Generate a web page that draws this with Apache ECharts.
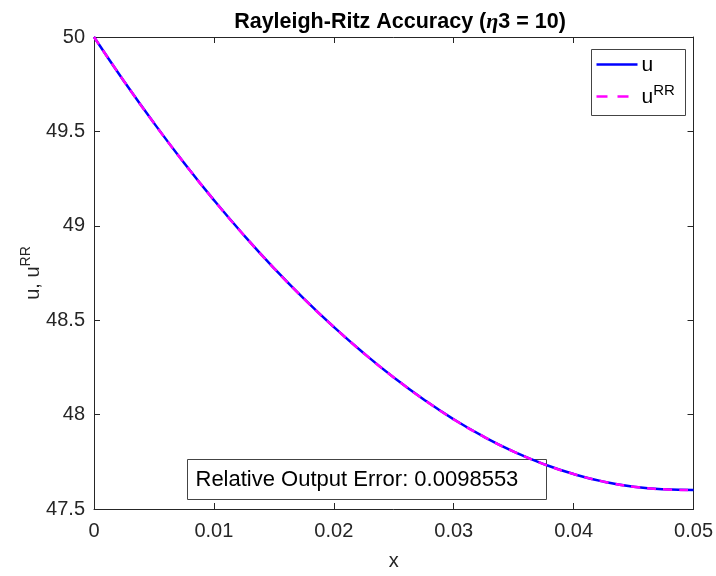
<!DOCTYPE html>
<html>
<head>
<meta charset="utf-8">
<script src="https://cdn.jsdelivr.net/npm/echarts@6/dist/echarts.min.js"></script>
<style>
  html, body { margin: 0; padding: 0; background: #fff; }
  #chart { width: 716px; height: 576px; }
</style>
</head>
<body>
<div id="chart"></div>
<script>
// Positions along the rod (x) and the exact / Rayleigh-Ritz temperature profiles
var xValues = [0, 0.0025, 0.005, 0.0075, 0.01, 0.0125, 0.015, 0.0175, 0.02, 0.0225,
               0.025, 0.0275, 0.03, 0.0325, 0.035, 0.0375, 0.04, 0.0425, 0.045, 0.0475, 0.05];
var uExact = [50.000, 49.766, 49.544, 49.334, 49.136, 48.950, 48.776, 48.614, 48.464, 48.325,
              48.197, 48.080, 47.975, 47.883, 47.804, 47.738, 47.685, 47.645, 47.618, 47.604, 47.600];
var uRR    = [50.000, 49.766, 49.544, 49.334, 49.136, 48.950, 48.776, 48.614, 48.464, 48.325,
              48.197, 48.080, 47.975, 47.883, 47.804, 47.738, 47.685, 47.645, 47.618, 47.604, 47.600];
var xTickLabels = ['0', '0.01', '0.02', '0.03', '0.04', '0.05'];
var yTickLabels = ['47.5', '48', '48.5', '49', '49.5', '50'];
var errorText = 'Relative Output Error: 0.0098553';

var FONT = 'Liberation Sans, Arial, Helvetica, sans-serif';
var AX = '#262626';
var BLUE = '#0000ff';
var MAGENTA = '#ff00ff';

function pairs(xs, ys) { return xs.map(function (x, i) { return [x, ys[i]]; }); }

var chart = echarts.init(document.getElementById('chart'), null, { renderer: 'canvas' });

var baseX = {
  type: 'value', min: 0, max: 0.05, interval: 0.01,
  axisLine: { show: true, onZero: false, lineStyle: { color: AX, width: 1 } },
  axisTick: { show: true, inside: true, length: 6, lineStyle: { color: AX } },
  splitLine: { show: false }
};
var baseY = {
  type: 'value', min: 47.5, max: 50, interval: 0.5,
  axisLine: { show: true, onZero: false, lineStyle: { color: AX, width: 1 } },
  axisTick: { show: true, inside: true, length: 6, lineStyle: { color: AX } },
  splitLine: { show: false }
};

chart.setOption({
  animation: false,
  backgroundColor: '#ffffff',
  title: {
    text: '{b|Rayleigh-Ritz Accuracy (}{e|η}{b|3 = 10)}',
    left: 395, top: 6, textAlign: 'center',
    textStyle: {
      rich: {
        b: { fontFamily: FONT, fontWeight: 'bold', fontSize: 21.5, color: '#000' },
        e: { fontFamily: 'Liberation Serif, serif', fontStyle: 'italic', fontSize: 22, color: '#000' }
      }
    }
  },
  grid: { left: 94, right: 17, top: 37, bottom: 64, containLabel: false },
  xAxis: [
    Object.assign({}, baseX, {
      position: 'bottom',
      name: 'x', nameLocation: 'middle', nameGap: 42, nameMoveOverlap: false,
      nameTextStyle: { fontFamily: FONT, fontSize: 20, color: AX },
      axisLabel: {
        fontFamily: FONT, fontSize: 20, color: AX, margin: 12,
        formatter: function (v) { return xTickLabels[Math.round(v / 0.01)]; }
      }
    }),
    Object.assign({}, baseX, { position: 'top', axisLabel: { show: false } })
  ],
  yAxis: [
    Object.assign({}, baseY, {
      position: 'left',
      name: '{n|u, u}{s|RR}', nameLocation: 'middle', nameGap: 51, nameRotate: 90,
      nameMoveOverlap: false,
      nameTextStyle: {
        rich: {
          n: { fontFamily: FONT, fontSize: 20, color: AX, verticalAlign: 'bottom', lineHeight: 24 },
          s: { fontFamily: FONT, fontSize: 14, color: AX, verticalAlign: 'top', lineHeight: 24, padding: [0, 0, 12, 0] }
        }
      },
      axisLabel: {
        fontFamily: FONT, fontSize: 20, color: AX, margin: 9,
        formatter: function (v) { return yTickLabels[Math.round((v - 47.5) / 0.5)]; }
      }
    }),
    Object.assign({}, baseY, { position: 'right', axisLabel: { show: false } })
  ],
  graphic: [
    // legend box with its two line samples
    {
      type: 'group', left: 591, top: 49, z: 100,
      children: [
        { type: 'rect', shape: { x: 0, y: 0, width: 94, height: 66 },
          style: { fill: '#fff', stroke: '#444', lineWidth: 1 } },
        { type: 'line', shape: { x1: 5, y1: 15, x2: 46, y2: 15 },
          style: { stroke: BLUE, lineWidth: 2.5 } },
        { type: 'text', x: 50, y: 16,
          style: { text: 'u', fontFamily: FONT, fontSize: 21, fill: '#000', textVerticalAlign: 'middle' } },
        { type: 'line', shape: { x1: 5, y1: 47, x2: 46, y2: 47 },
          style: { stroke: MAGENTA, lineWidth: 2.5, lineDash: [11, 10] } },
        { type: 'text', x: 50, y: 48,
          style: {
            text: '{a|u}{s|RR}', textVerticalAlign: 'middle',
            rich: {
              a: { fontFamily: FONT, fontSize: 21, fill: '#000', color: '#000' },
              s: { fontFamily: FONT, fontSize: 15, fill: '#000', color: '#000', padding: [0, 0, 14, 0] }
            }
          } }
      ]
    },
    // output-error annotation
    {
      type: 'group', left: 187, top: 459, z: 100,
      children: [
        { type: 'rect', shape: { x: 0, y: 0, width: 359, height: 40 },
          style: { fill: '#fff', stroke: '#444', lineWidth: 1 } },
        { type: 'text', x: 8, y: 20,
          style: { text: errorText, fontFamily: FONT, fontSize: 22, fill: '#000', textVerticalAlign: 'middle' } }
      ]
    }
  ],
  series: [
    {
      name: 'u', type: 'line', xAxisIndex: 0, yAxisIndex: 0,
      data: pairs(xValues, uExact), smooth: true, showSymbol: false, symbol: 'none',
      lineStyle: { color: BLUE, width: 2.5, type: 'solid' },
      itemStyle: { color: BLUE }, z: 2
    },
    {
      name: 'uRR', type: 'line', xAxisIndex: 0, yAxisIndex: 0,
      data: pairs(xValues, uRR), smooth: true, showSymbol: false, symbol: 'none',
      lineStyle: { color: MAGENTA, width: 2.5, type: [9, 7] },
      itemStyle: { color: MAGENTA }, z: 3
    }
  ]
});
</script>
</body>
</html>
